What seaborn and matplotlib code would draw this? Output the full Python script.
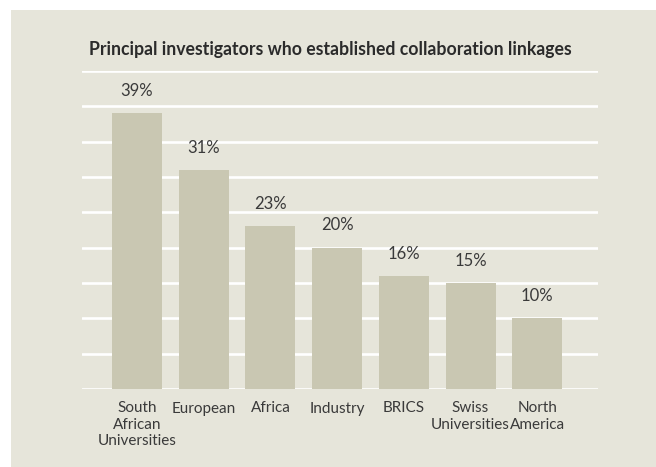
import matplotlib
matplotlib.use("Agg")
import matplotlib.pyplot as plt
import seaborn as sns
import pandas as pd
from matplotlib.patches import Rectangle

# Data
categories = [
    "South\nAfrican\nUniversities",
    "European",
    "Africa",
    "Industry",
    "BRICS",
    "Swiss\nUniversities",
    "North\nAmerica",
]
shares = [39, 31, 23, 20, 16, 15, 10]
title = "Principal investigators who established collaboration linkages"

BG = "#E6E5DA"
BAR = "#C9C7B2"
TEXT = "#3A3A3A"

sns.set_theme(style="white")
plt.rcParams["font.family"] = ["Lato", "DejaVu Sans"]

df = pd.DataFrame({"category": categories, "share": shares})

W, H = 656, 467
fig = plt.figure(figsize=(W / 100, H / 100), dpi=100, facecolor="white")

# beige panel behind the chart
fig.patches.append(Rectangle((11 / W, 0), 1 - 11 / W, 1 - 10 / H,
                             transform=fig.transFigure, facecolor=BG,
                             edgecolor="none", zorder=-5))

left, right = 82 / W, 598 / W
bottom, top = 1 - 389 / H, 1 - 71 / H
ax = fig.add_axes([left, bottom, right - left, top - bottom])
ax.set_zorder(2)
ax.set_facecolor("none")

sns.barplot(data=df, x="category", y="share", color=BAR, width=0.75,
            saturation=1, linewidth=0, edgecolor="none", ax=ax, zorder=3)

ax.set_ylim(0, 45)
ax.set_xlim(-0.825, 6.91)
ax.set_yticks(range(0, 46, 5))
ax.yaxis.grid(True, color="white", linewidth=1.9, zorder=1)
ax.xaxis.grid(False)
ax.set_axisbelow(True)
ax.tick_params(axis="y", left=False, labelleft=False)
ax.tick_params(axis="x", bottom=False, pad=3)
for s in ax.spines.values():
    s.set_visible(False)
ax.set_xlabel("")
ax.set_ylabel("")

for lbl in ax.get_xticklabels():
    lbl.set_fontsize(11)
    lbl.set_color(TEXT)
    lbl.set_linespacing(1.22)
    lbl.set_verticalalignment("top")

for i, v in enumerate(shares):
    ax.annotate(f"{v}%", xy=(i, v), xytext=(0, 16), textcoords="offset points",
                ha="center", va="center", fontsize=12, color=TEXT)

fig.text(330 / W, 1 - 50 / H, title, ha="center", va="center",
         fontsize=12.7, fontweight="bold", color="#2B2B2B", zorder=3)

fig.savefig("out.png", dpi=100, facecolor="white")
